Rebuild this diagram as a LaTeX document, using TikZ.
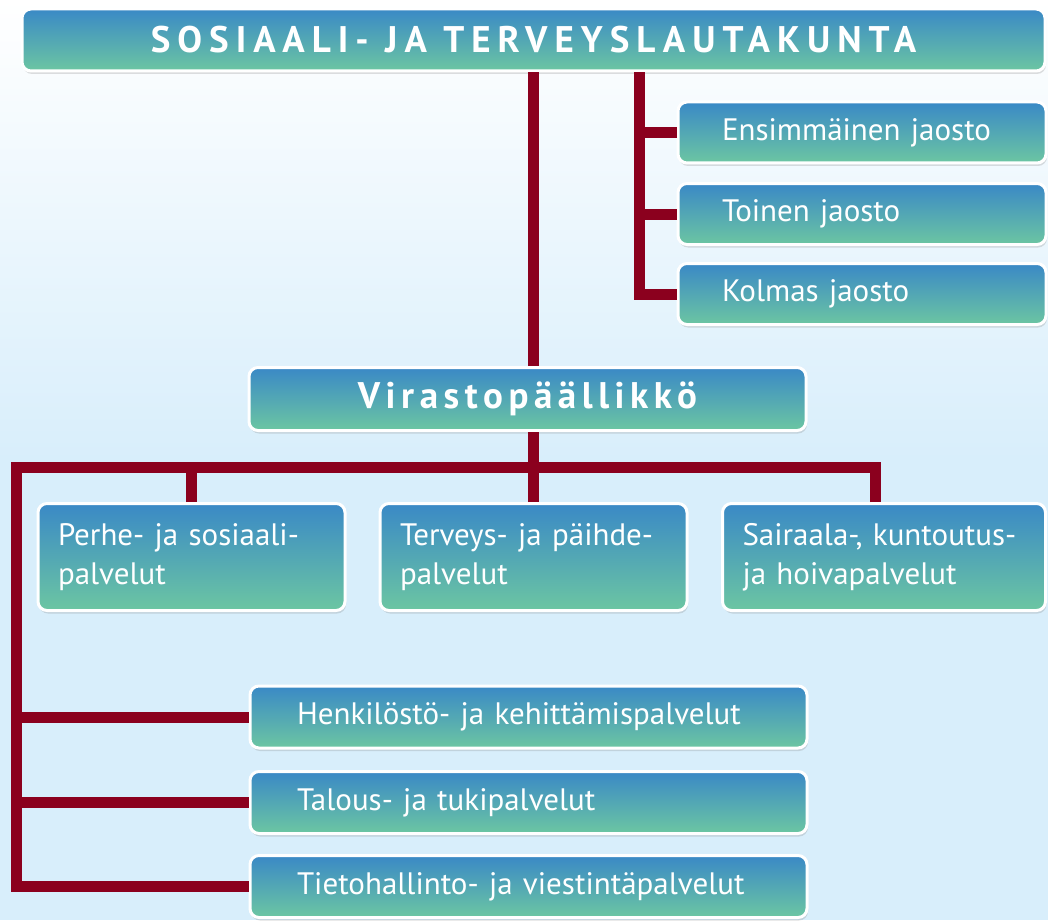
\documentclass[tikz,border=0pt]{standalone}
\usepackage{fontspec}
\setmainfont{PT Sans}
\usetikzlibrary{shadows}
\definecolor{boxtop}{RGB}{58,137,198}
\definecolor{boxbot}{RGB}{108,198,162}
\definecolor{linec}{RGB}{139,0,30}
\definecolor{bgbot}{RGB}{216,238,251}
\begin{document}
\begin{tikzpicture}[x=1pt,y=-1pt,
  orgbox/.style={rectangle, rounded corners=9pt, draw=white, line width=3pt,
    top color=boxtop, bottom color=boxbot,
    drop shadow={opacity=0.25, shadow xshift=1pt, shadow yshift=-3pt},
    text=white, inner ysep=0pt},
  headtxt/.style={font=\fontsize{37}{40}\selectfont\bfseries\addfontfeature{LetterSpace=19}},
  virtxt/.style={font=\fontsize{37}{40}\selectfont\bfseries\addfontfeature{LetterSpace=15}},
  plaintxt/.style={font=\fontsize{31}{39}\selectfont, align=left, inner xsep=44pt},
  conn/.style={draw=linec, line width=11pt, line join=miter}
]
\useasboundingbox (0,0) rectangle (1048,920);
\shade[top color=white, bottom color=bgbot] (0,0) rectangle (1048,460);
\fill[bgbot] (0,459) rectangle (1048,920);

% boxes
\node[orgbox, headtxt, minimum width=1023pt, minimum height=62pt] (top) at (533.5,40) {SOSIAALI- JA TERVEYSLAUTAKUNTA};

\node[orgbox, plaintxt, minimum height=61pt, text width=280pt] (j1) at (862,132.5) {\mbox{Ensimmäinen jaosto}};
\node[orgbox, plaintxt, minimum height=61pt, text width=280pt] (j2) at (862,214) {\mbox{Toinen jaosto}};
\node[orgbox, plaintxt, minimum height=61pt, text width=280pt] (j3) at (862,294) {\mbox{Kolmas jaosto}};

\node[orgbox, virtxt, minimum width=557pt, minimum height=63pt] (vir) at (527.5,399) {Virastopäällikkö};

\node[orgbox, plaintxt, inner xsep=20pt, minimum height=107pt, text width=267pt] (p1) at (191.5,557) {\mbox{Perhe- ja sosiaali-}\\\mbox{palvelut}};
\node[orgbox, plaintxt, inner xsep=20pt, minimum height=107pt, text width=267pt] (p2) at (533.5,557) {\mbox{Terveys- ja päihde-}\\\mbox{palvelut}};
\node[orgbox, plaintxt, inner xsep=20pt, minimum height=107pt, text width=283pt] (p3) at (884,557) {\mbox{Sairaala-, kuntoutus-}\\\mbox{ja hoivapalvelut}};

\node[orgbox, plaintxt, inner xsep=47pt, minimum height=62pt, text width=463pt] (h1) at (528.5,717) {\mbox{Henkilöstö- ja kehittämispalvelut}};
\node[orgbox, plaintxt, inner xsep=47pt, minimum height=62pt, text width=463pt] (h2) at (528.5,802.5) {\mbox{Talous- ja tukipalvelut}};
\node[orgbox, plaintxt, inner xsep=47pt, minimum height=62pt, text width=463pt] (h3) at (528.5,886.5) {\mbox{Tietohallinto- ja viestintäpalvelut}};

% connectors
\coordinate (jv) at (639,0);
\coordinate (bus) at (16.5,467);
\draw[conn] (top.south) -- (top.south |- vir.north);
\draw[conn] (top.south -| jv) |- (j3.west);
\draw[conn] (j1.west -| jv) -- (j1.west);
\draw[conn] (j2.west -| jv) -- (j2.west);
\draw[conn] (p2.north) -- (p2.north |- vir.south);
\draw[conn] ([xshift=-9pt]p3.north) |- (bus) |- (h3.west);
\draw[conn] (p1.north) -- (p1.north |- bus);
\draw[conn] (bus |- h1.west) -- (h1.west);
\draw[conn] (bus |- h2.west) -- (h2.west);
\end{tikzpicture}
\end{document}
